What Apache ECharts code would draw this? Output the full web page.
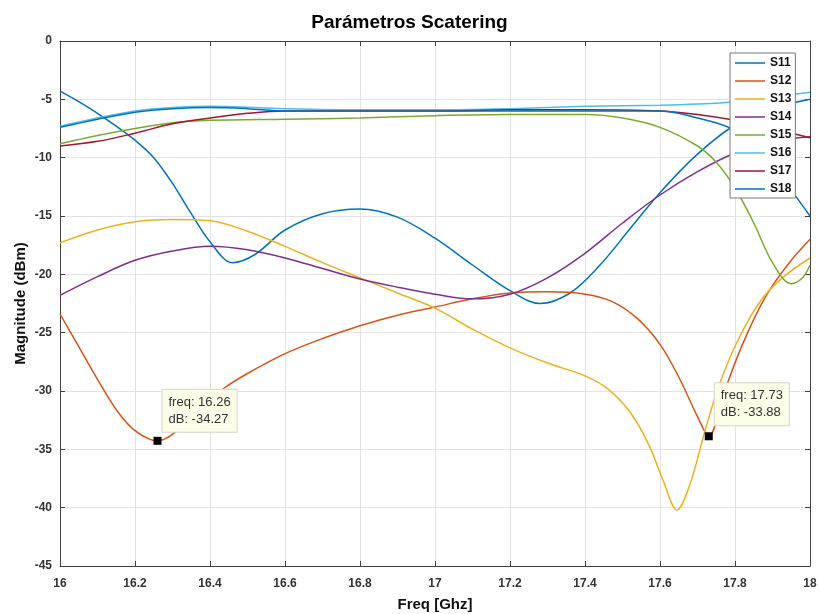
<!DOCTYPE html>
<html><head><meta charset="utf-8">
<script src="https://cdn.jsdelivr.net/npm/echarts@6/dist/echarts.min.js"></script>
<style>html,body{margin:0;padding:0;background:#fff}#c{width:819px;height:614px}</style>
</head><body><div id="c"></div>
<script>
const chartTitle = 'Parámetros Scatering';
const xName = 'Freq [Ghz]';
const yName = 'Magnitude (dBm)';
const xMin = 16, xMax = 18, xStep = 0.2;
const yMin = -45, yMax = 0, yStep = 5;

const seriesNames = ['S11','S12','S13','S14','S15','S16','S17','S18'];
const seriesColors = ['#0072BD','#D95319','#EDB120','#7E2F8E','#77AC30','#4DBEEE','#A2142F','#0072BD'];

const s11Freq = [16.0,16.05,16.1,16.15,16.2,16.25,16.3,16.35,16.4,16.46,16.52,16.6,16.7,16.8,16.9,17.0,17.1,17.2,17.28,17.36,17.44,17.52,17.6,17.7,17.8,17.9,18.0];
const s11Mag  = [-4.3,-5.2,-6.2,-7.3,-8.5,-10.0,-12.2,-14.8,-17.2,-19.0,-18.3,-16.2,-14.8,-14.4,-15.1,-16.9,-19.2,-21.4,-22.5,-21.6,-19.2,-16.1,-13.0,-9.7,-7.2,-5.8,-5.0];

const s12Freq = [16.0,16.05,16.1,16.15,16.2,16.26,16.32,16.38,16.44,16.5,16.6,16.7,16.8,16.9,17.0,17.1,17.2,17.3,17.4,17.47,17.54,17.6,17.65,17.7,17.73,17.77,17.82,17.88,17.94,18.0];
const s12Mag  = [-23.4,-26.2,-29.0,-31.6,-33.4,-34.27,-33.2,-31.3,-29.7,-28.5,-26.8,-25.5,-24.4,-23.5,-22.8,-22.1,-21.6,-21.5,-21.7,-22.3,-23.8,-26.0,-28.8,-32.2,-33.88,-30.2,-26.0,-22.0,-19.2,-17.0];

const s13Freq = [16.0,16.1,16.2,16.3,16.4,16.5,16.6,16.7,16.8,16.9,17.0,17.1,17.2,17.3,17.4,17.46,17.52,17.57,17.61,17.645,17.68,17.72,17.76,17.81,17.87,17.93,18.0];
const s13Mag  = [-17.3,-16.2,-15.5,-15.3,-15.4,-16.3,-17.6,-19.0,-20.3,-21.6,-22.9,-24.7,-26.3,-27.6,-28.7,-29.8,-31.8,-34.6,-37.8,-40.2,-38.0,-33.4,-29.3,-25.5,-22.2,-20.2,-18.6];

const s14Freq = [16.0,16.1,16.2,16.3,16.4,16.5,16.6,16.7,16.8,16.9,17.0,17.1,17.2,17.3,17.4,17.5,17.6,17.7,17.8,17.9,18.0];
const s14Mag  = [-21.8,-20.2,-18.8,-18.0,-17.6,-17.9,-18.6,-19.5,-20.4,-21.1,-21.7,-22.1,-21.7,-20.3,-18.2,-15.6,-13.2,-11.2,-9.6,-8.6,-8.2];

const s15Freq = [16.0,16.1,16.2,16.3,16.4,16.6,16.8,17.0,17.2,17.4,17.5,17.6,17.7,17.75,17.8,17.85,17.9,17.95,17.98,18.0];
const s15Mag  = [-8.8,-8.1,-7.5,-7.0,-6.8,-6.7,-6.6,-6.4,-6.3,-6.3,-6.6,-7.4,-9.0,-10.4,-12.6,-15.6,-19.0,-20.8,-20.3,-19.2];

const s16Freq = [16.0,16.1,16.2,16.3,16.4,16.6,16.8,17.0,17.2,17.4,17.6,17.7,17.8,17.9,18.0];
const s16Mag  = [-7.3,-6.6,-6.0,-5.7,-5.6,-5.8,-5.9,-5.9,-5.8,-5.6,-5.5,-5.4,-5.2,-4.8,-4.4];

const s17Freq = [16.0,16.1,16.2,16.3,16.4,16.5,16.6,16.8,17.0,17.2,17.4,17.6,17.7,17.8,17.9,18.0];
const s17Mag  = [-9.0,-8.6,-7.9,-7.1,-6.6,-6.2,-6.0,-6.0,-6.0,-5.9,-5.9,-6.0,-6.3,-6.8,-7.5,-8.3];

const s18Freq = [16.0,16.1,16.2,16.3,16.4,16.5,16.6,16.8,17.0,17.2,17.4,17.6,17.7,17.79,17.85,17.9,17.95,18.0];
const s18Mag  = [-7.4,-6.7,-6.1,-5.8,-5.7,-5.8,-6.0,-6.0,-6.0,-6.0,-6.0,-6.0,-6.6,-7.5,-9.0,-10.8,-12.8,-15.0];

const markerFreq = [16.26, 17.73];
const markerMag  = [-34.27, -33.88];

const allFreq = [s11Freq,s12Freq,s13Freq,s14Freq,s15Freq,s16Freq,s17Freq,s18Freq];
const allMag  = [s11Mag,s12Mag,s13Mag,s14Mag,s15Mag,s16Mag,s17Mag,s18Mag];

const FONT = 'Liberation Sans, Arial, Helvetica, sans-serif';
const labelOffsets = [[9,-47],[10,-49]];

const series = seriesNames.map((name, i) => {
  const s = {
    name: name,
    type: 'line',
    xAxisIndex: 0, yAxisIndex: 0,
    data: allFreq[i].map((f, k) => [f, allMag[i][k]]),
    smooth: 0.35,
    symbol: 'none',
    showSymbol: false,
    lineStyle: { width: 1.5, color: seriesColors[i] },
    itemStyle: { color: seriesColors[i] },
    emphasis: { disabled: true },
    z: 2
  };
  if (name === 'S12') {
    s.markPoint = {
      z: 10,
      symbol: 'rect',
      symbolSize: 8,
      itemStyle: { color: '#000' },
      data: markerFreq.map((f, k) => ({
        coord: [f, markerMag[k]],
        label: {
          show: true,
          position: labelOffsets[k],
          formatter: 'freq: ' + f.toFixed(2) + '\ndB: ' + markerMag[k].toFixed(2),
          fontFamily: FONT, fontSize: 13, color: '#333', lineHeight: 17,
          backgroundColor: '#fcfce8', borderColor: '#d6d6c4', borderWidth: 1,
          padding: [4, 6, 4, 6], align: 'left', verticalAlign: 'top'
        }
      }))
    };
  }
  return s;
});

const axisCommonX = {
  type: 'value', min: xMin, max: xMax, interval: xStep,
  axisLine: { show: true, onZero: false, lineStyle: { color: '#404040', width: 1 } },
  axisTick: { show: true, inside: true, length: 5, lineStyle: { color: '#404040' } }
};
const axisCommonY = {
  type: 'value', min: yMin, max: yMax, interval: yStep,
  axisLine: { show: true, onZero: false, lineStyle: { color: '#404040', width: 1 } },
  axisTick: { show: true, inside: true, length: 5, lineStyle: { color: '#404040' } }
};

const chart = echarts.init(document.getElementById('c'), null, { renderer: 'canvas' });
chart.setOption({
  animation: false,
  backgroundColor: '#fff',
  title: {
    text: chartTitle, left: 'center', top: 8,
    textStyle: { fontFamily: FONT, fontSize: 19, fontWeight: 'bold', color: '#000' }
  },
  grid: { left: 60, right: 9, top: 41, bottom: 48, containLabel: false, outerBoundsMode: 'none' },
  legend: {
    data: seriesNames.map(n => ({ name: n, icon: 'rect' })),
    orient: 'vertical',
    left: 730, top: 53,
    itemWidth: 30, itemHeight: 1.5, itemGap: 4,
    padding: [3, 4, 2, 5],
    backgroundColor: '#fff',
    borderColor: '#777', borderWidth: 1,
    textStyle: { fontFamily: FONT, fontSize: 12, fontWeight: 'bold', color: '#111', lineHeight: 14 },
    selectedMode: false
  },
  xAxis: [
    Object.assign({}, axisCommonX, {
      position: 'bottom',
      name: xName, nameLocation: 'middle', nameGap: 31,
      nameTextStyle: { fontFamily: FONT, fontSize: 15, fontWeight: 'bold', color: '#111' },
      axisLabel: { fontFamily: FONT, fontSize: 12, fontWeight: 'bold', color: '#333', margin: 12 },
      splitLine: { show: true, lineStyle: { color: '#e3e3e3', width: 1 } }
    }),
    Object.assign({}, axisCommonX, {
      position: 'top', axisLabel: { show: false }, splitLine: { show: false }
    })
  ],
  yAxis: [
    Object.assign({}, axisCommonY, {
      position: 'left',
      name: yName, nameLocation: 'middle', nameGap: 32, nameRotate: 90, nameMoveOverlap: false,
      nameTextStyle: { fontFamily: FONT, fontSize: 15, fontWeight: 'bold', color: '#111' },
      axisLabel: { fontFamily: FONT, fontSize: 12, fontWeight: 'bold', color: '#333', margin: 8 },
      splitLine: { show: true, lineStyle: { color: '#e3e3e3', width: 1 } }
    }),
    Object.assign({}, axisCommonY, {
      position: 'right', axisLabel: { show: false }, splitLine: { show: false }
    })
  ],
  series: series
});
</script></body></html>
